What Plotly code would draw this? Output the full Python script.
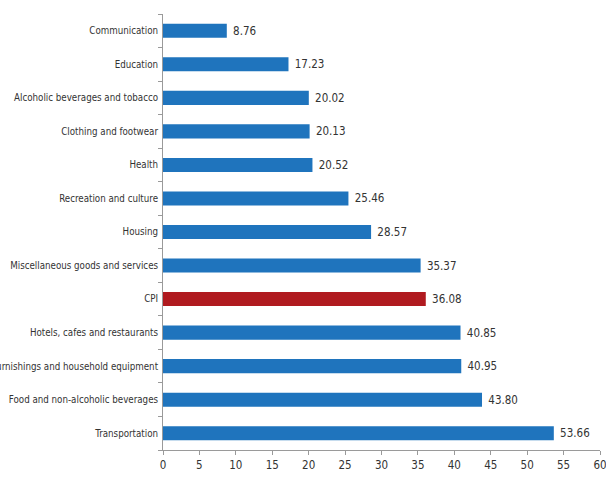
import plotly.graph_objects as go

# Annual change by expenditure group (%), top to bottom as drawn
categories = [
    "Communication",
    "Education",
    "Alcoholic beverages and tobacco",
    "Clothing and footwear",
    "Health",
    "Recreation and culture",
    "Housing",
    "Miscellaneous goods and services",
    "CPI",
    "Hotels, cafes and restaurants",
    "Furnishings and household equipment",
    "Food and non-alcoholic beverages",
    "Transportation",
]
values = [8.76, 17.23, 20.02, 20.13, 20.52, 25.46, 28.57, 35.37,
          36.08, 40.85, 40.95, 43.80, 53.66]
x_ticks = [0, 5, 10, 15, 20, 25, 30, 35, 40, 45, 50, 55, 60]

BLUE = "#1f74bd"
RED = "#b01a1f"
colors = [RED if c == "CPI" else BLUE for c in categories]

FONT = "DejaVu Sans Condensed, Liberation Sans Narrow, sans-serif"

fig = go.Figure(
    go.Bar(
        x=values,
        y=categories,
        orientation="h",
        marker=dict(color=colors, line=dict(width=0)),
        width=0.42,
        text=[f"\u00a0{v:.2f}" for v in values],
        textposition="outside",
        textfont=dict(family=FONT, size=11.5, color="#333333"),
        cliponaxis=False,
    )
)

fig.update_layout(
    width=606,
    height=479,
    margin=dict(l=163, r=6, t=14, b=29),
    paper_bgcolor="white",
    plot_bgcolor="white",
    showlegend=False,
    font=dict(family=FONT, size=10, color="#333333"),
    xaxis=dict(
        range=[0, 60],
        tickvals=x_ticks,
        ticktext=[str(t) for t in x_ticks],
        showgrid=False,
        zeroline=False,
        showline=True,
        linecolor="#9a9a9a",
        linewidth=1,
        ticks="outside",
        ticklen=4,
        tickcolor="#9a9a9a",
        ticklabeloverflow="allow",
        tickfont=dict(family=FONT, size=11.5, color="#333333"),
        automargin=False,
    ),
    yaxis=dict(
        categoryorder="array",
        categoryarray=categories[::-1],
        showgrid=False,
        zeroline=False,
        showline=True,
        linecolor="#9a9a9a",
        linewidth=1,
        ticks="outside",
        tickson="boundaries",
        ticklen=4,
        tickcolor="#9a9a9a",
        ticklabelstandoff=2,
        ticklabeloverflow="allow",
        tickfont=dict(family=FONT, size=9.7, color="#333333"),
        automargin=False,
    ),
)

fig.write_html("out.html")
